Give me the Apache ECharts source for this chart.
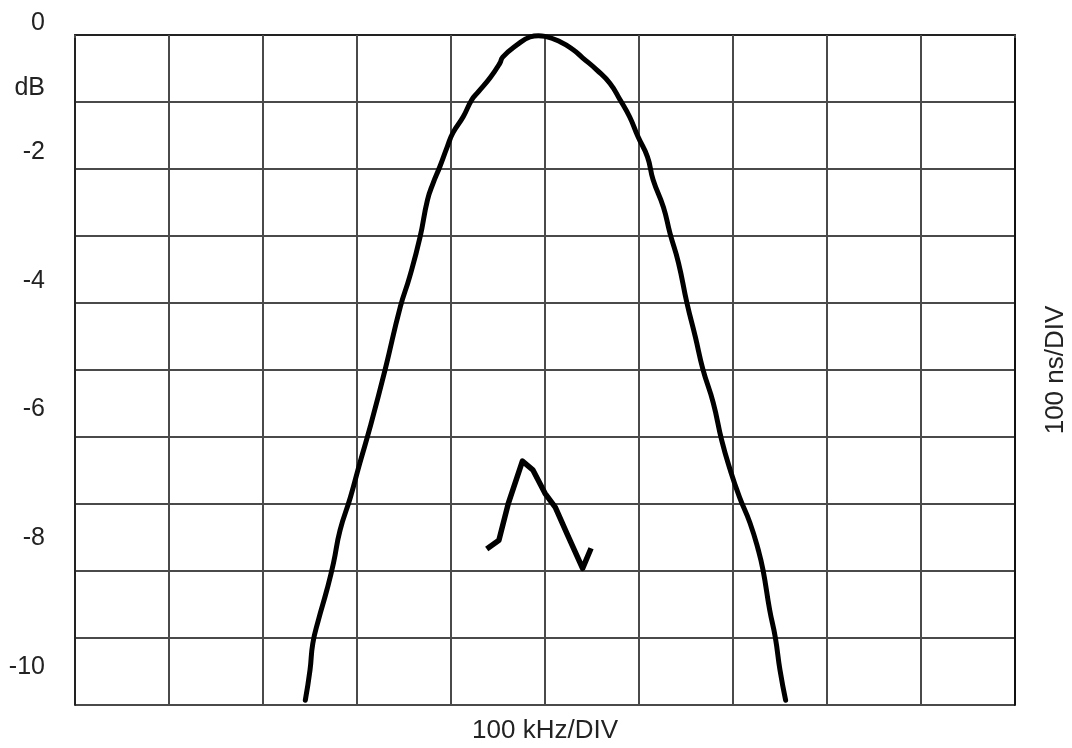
<!DOCTYPE html>
<html>
<head>
<meta charset="utf-8">
<script src="https://cdn.jsdelivr.net/npm/echarts@6/dist/echarts.min.js"></script>
<style>
html,body{margin:0;padding:0;background:#fff;}
#chart{width:1072px;height:748px;}
</style>
</head>
<body>
<div id="chart"></div>
<script>
// x in divisions (100 kHz/DIV), y in dB
var responseCurve = [
  [2.45,-9.93],[2.50,-9.48],[2.53,-9.08],[2.59,-8.73],[2.68,-8.28],[2.75,-7.88],
  [2.82,-7.39],[2.93,-6.90],[3.03,-6.39],[3.14,-5.85],[3.30,-4.99],[3.46,-4.06],
  [3.56,-3.61],[3.67,-3.02],[3.75,-2.46],[3.81,-2.21],[3.88,-1.97],[3.96,-1.67],
  [4.02,-1.46],[4.13,-1.22],[4.22,-0.97],[4.29,-0.85],[4.42,-0.63],[4.52,-0.42],
  [4.55,-0.33],[4.70,-0.15],[4.84,-0.03],[4.93,-0.01],[5.00,-0.02],[5.16,-0.10],
  [5.30,-0.22],[5.40,-0.34],[5.55,-0.52],[5.69,-0.72],[5.80,-0.97],[5.90,-1.22],
  [5.99,-1.52],[6.09,-1.82],[6.15,-2.16],[6.26,-2.57],[6.33,-2.96],[6.42,-3.40],
  [6.51,-4.00],[6.60,-4.51],[6.68,-4.99],[6.79,-5.49],[6.88,-6.05],[6.97,-6.49],
  [7.07,-6.90],[7.18,-7.28],[7.27,-7.69],[7.32,-7.99],[7.39,-8.58],[7.45,-8.99],
  [7.50,-9.48],[7.56,-9.93]
];
var delayTrace = [
  [4.38,-7.67],[4.51,-7.54],[4.61,-6.99],[4.76,-6.36],[4.87,-6.49],[5.00,-6.84],
  [5.11,-7.05],[5.23,-7.43],[5.40,-7.96],[5.49,-7.66]
];
var yTickLabels = {'0':'0','-1':'dB','-2':'-2','-4':'-4','-6':'-6','-8':'-8','-10':'-10'};
var xAxisTitle = '100 kHz/DIV';
var rightAxisTitle = '100 ns/DIV';

var font = 'Liberation Sans, Arial, sans-serif';
var gridColor = '#4a4a4a';
var chart = echarts.init(document.getElementById('chart'));
chart.setOption({
  animation: false,
  backgroundColor: '#fff',
  grid: [
    {left: 75, right: 57, top: 35, bottom: 43, containLabel: false, outerBoundsMode: 'none'},
    {left: 75, width: 10, top: 23.5, height: 643.5, containLabel: false, outerBoundsMode: 'none'}
  ],
  xAxis: [
    {
      type: 'value', gridIndex: 0, min: 0, max: 10, interval: 1,
      name: xAxisTitle, nameLocation: 'middle', nameGap: 13,
      nameTextStyle: {fontFamily: font, fontSize: 26, color: '#222'},
      axisLine: {show: true, lineStyle: {color: '#222', width: 2}},
      axisTick: {show: true, inside: false, length: 3, lineStyle: {color: gridColor, width: 2}},
      axisLabel: {show: false},
      splitLine: {show: true, lineStyle: {color: gridColor, width: 2}}
    },
    {type: 'value', gridIndex: 1, min: 0, max: 1, show: false}
  ],
  yAxis: [
    {
      type: 'value', gridIndex: 0, min: -10, max: 0, interval: 1,
      axisLine: {show: true, onZero: false, lineStyle: {color: '#222', width: 2}},
      axisTick: {show: false},
      axisLabel: {show: false},
      splitLine: {show: true, lineStyle: {color: gridColor, width: 2}}
    },
    {
      type: 'value', gridIndex: 0, position: 'right', min: -10, max: 0, interval: 1,
      name: rightAxisTitle, nameLocation: 'middle', nameRotate: 90, nameGap: 28,
      nameTextStyle: {fontFamily: font, fontSize: 26, color: '#222'},
      axisLine: {show: true, onZero: false, lineStyle: {color: '#111', width: 2}},
      axisTick: {show: false},
      axisLabel: {show: false},
      splitLine: {show: false}
    },
    {
      type: 'value', gridIndex: 1, min: -10, max: 0, interval: 1,
      axisLine: {show: false}, axisTick: {show: false}, splitLine: {show: false},
      axisLabel: {
        show: true, margin: 30, fontFamily: font, fontSize: 25, color: '#222',
        formatter: function (v) { var k = String(Math.round(v)); return yTickLabels[k] || ''; }
      }
    }
  ],
  series: [
    {
      type: 'line', xAxisIndex: 0, yAxisIndex: 0, data: responseCurve,
      showSymbol: false, smooth: 0.5,
      lineStyle: {color: '#000', width: 5, join: 'round', cap: 'round'}
    },
    {
      type: 'line', xAxisIndex: 0, yAxisIndex: 0, data: delayTrace,
      showSymbol: false, smooth: false,
      lineStyle: {color: '#000', width: 5.5, join: 'round', cap: 'butt'}
    }
  ]
});
</script>
</body>
</html>
